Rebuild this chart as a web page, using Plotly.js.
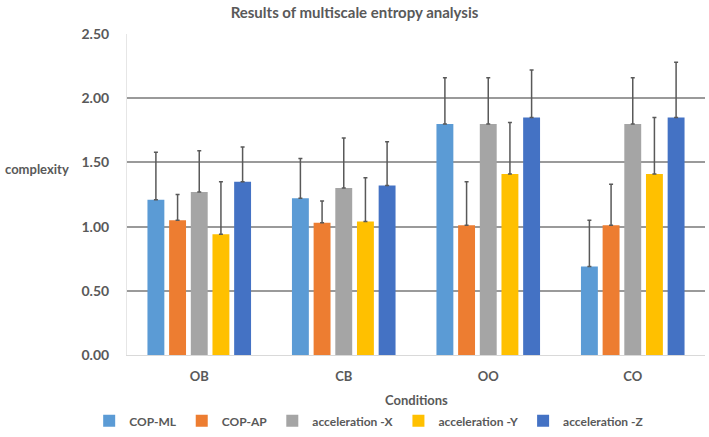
<!DOCTYPE html>
<html>
<head>
<meta charset="utf-8">
<script src="https://cdn.plot.ly/plotly-3.0.1.min.js"></script>
<style>
  body { margin: 0; background: #fff; }
  #plot { width: 709px; height: 437px; }
</style>
</head>
<body>
<div id="plot"></div>
<script>
// conditions on the x axis
var conditions = ["OB", "CB", "OO", "CO"];

// mean complexity per signal
var copML  = [1.21, 1.22, 1.80, 0.69];
var copAP  = [1.05, 1.03, 1.01, 1.01];
var accX   = [1.27, 1.30, 1.80, 1.80];
var accY   = [0.94, 1.04, 1.41, 1.41];
var accZ   = [1.35, 1.32, 1.85, 1.85];

// standard deviations (upper error bars)
var copMLsd = [0.37, 0.31, 0.36, 0.36];
var copAPsd = [0.20, 0.17, 0.34, 0.32];
var accXsd  = [0.32, 0.39, 0.36, 0.36];
var accYsd  = [0.41, 0.34, 0.40, 0.44];
var accZsd  = [0.27, 0.34, 0.37, 0.43];

var names  = ["COP-ML", "COP-AP", "acceleration -X", "acceleration -Y", "acceleration -Z"];
var colors = ["#5B9BD5", "#ED7D31", "#A5A5A5", "#FFC000", "#4472C4"];
var means  = [copML, copAP, accX, accY, accZ];
var sds    = [copMLsd, copAPsd, accXsd, accYsd, accZsd];

var data = names.map(function (n, i) {
  return {
    type: "bar",
    name: n,
    x: conditions,
    y: means[i],
    marker: { color: colors[i] },
    error_y: {
      type: "data",
      array: sds[i],
      arrayminus: sds[i].map(function () { return 0; }),
      symmetric: false,
      color: "#595959",
      thickness: 1.5,
      width: 2
    }
  };
});

var font = "Lato, 'Open Sans', sans-serif";

var layout = {
  width: 709,
  height: 437,
  margin: { l: 127, r: 4, t: 34, b: 82 },
  paper_bgcolor: "#ffffff",
  plot_bgcolor: "#ffffff",
  barmode: "group",
  bargap: 0.25,
  bargroupgap: 0.22,
  showlegend: true,
  font: { family: font, color: "#595959", size: 13, weight: "bold" },
  title: {
    text: "Results of multiscale entropy analysis",
    font: { family: font, size: 15, color: "#595959", weight: "bold" },
    x: 0.5, xref: "container", y: 0.97, yref: "container", yanchor: "middle"
  },
  xaxis: {
    tickfont: { size: 13, color: "#595959", weight: "bold" },
    ticklabelstandoff: 9,
    showgrid: false,
    showline: true,
    linecolor: "#d9d9d9",
    linewidth: 1,
    ticks: ""
  },
  yaxis: {
    range: [0, 2.5],
    dtick: 0.5,
    tickformat: ".2f",
    tickfont: { size: 14, color: "#595959", weight: "bold" },
    ticklabelstandoff: 14,
    showgrid: true,
    gridcolor: "#9a9a9a",
    gridwidth: 2,
    zeroline: false,
    showline: true,
    linecolor: "#e6e6e6",
    linewidth: 1,
    ticks: ""
  },
  legend: {
    orientation: "h",
    xref: "container",
    x: 0.52,
    xanchor: "center",
    y: 0.037,
    yref: "container",
    yanchor: "middle",
    font: { size: 12, color: "#595959", weight: "bold" },
    itemwidth: 30,
    traceorder: "normal"
  },
  annotations: [{
    text: "complexity",
    xref: "paper", yref: "paper",
    x: -0.215, y: 0.58,
    xanchor: "left", yanchor: "middle",
    showarrow: false,
    font: { family: font, size: 13, color: "#595959", weight: "bold" }
  }, {
    text: "Conditions",
    xref: "paper", yref: "paper",
    x: 0.5, y: 0,
    xanchor: "center", yanchor: "middle",
    yshift: -45,
    showarrow: false,
    font: { family: font, size: 13, color: "#595959", weight: "bold" }
  }]
};

Plotly.newPlot("plot", data, layout, { displayModeBar: false });
</script>
</body>
</html>
